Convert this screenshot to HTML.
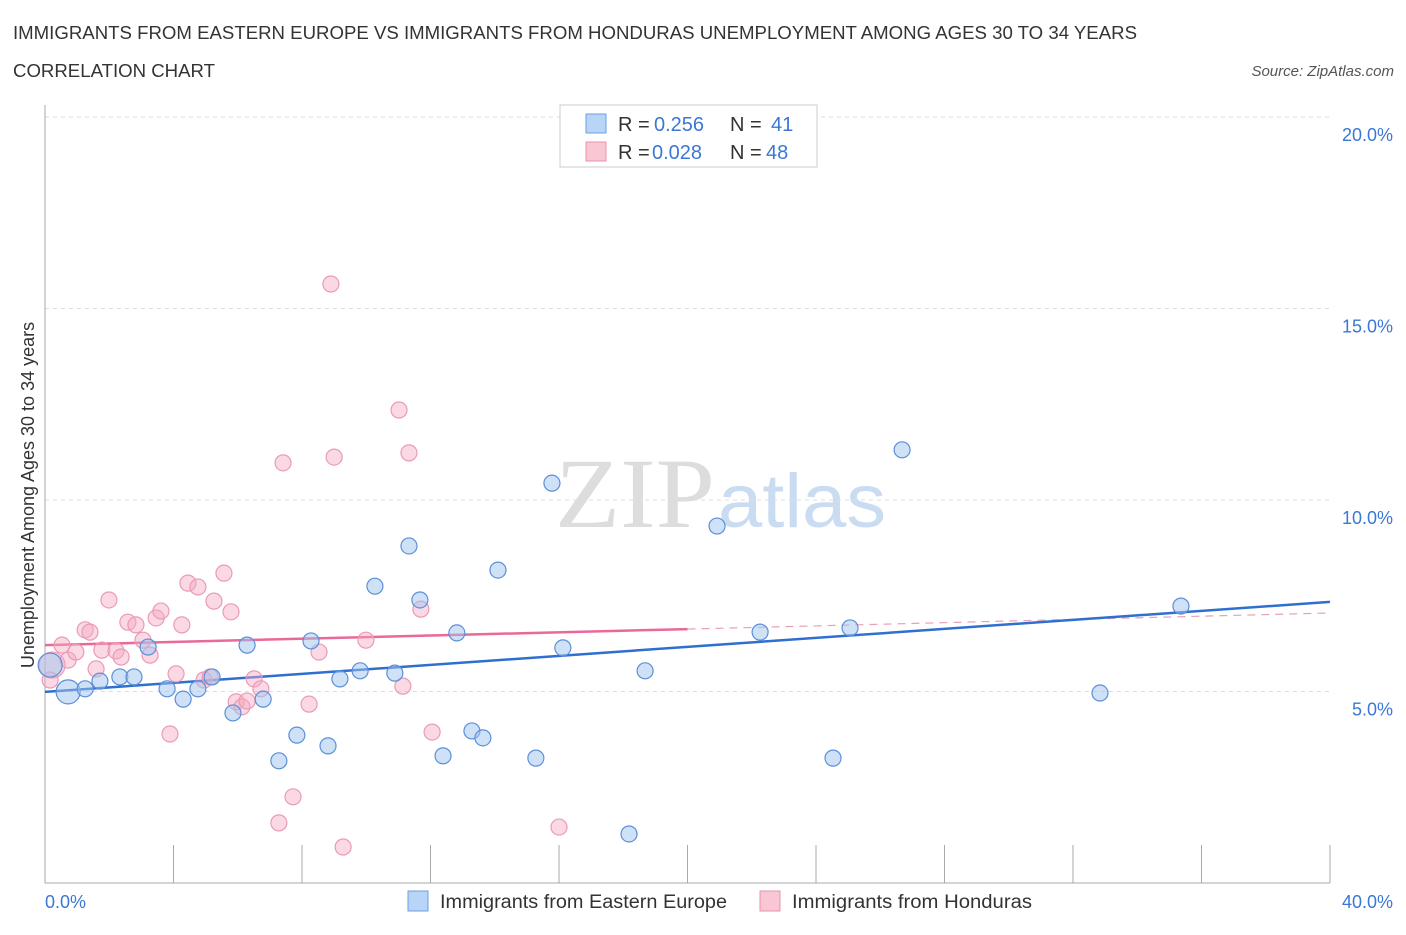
<!DOCTYPE html>
<html><head><meta charset="utf-8"><style>
body{margin:0;background:#fff;font-family:"Liberation Sans",sans-serif;}
</style></head><body>
<svg id="chart" width="1406" height="930" xmlns="http://www.w3.org/2000/svg" font-family="Liberation Sans, sans-serif">
<text x="13" y="39" font-size="18" fill="#333" textLength="1124" lengthAdjust="spacingAndGlyphs">IMMIGRANTS FROM EASTERN EUROPE VS IMMIGRANTS FROM HONDURAS UNEMPLOYMENT AMONG AGES 30 TO 34 YEARS</text>
<text x="13" y="77" font-size="18" fill="#333" textLength="202" lengthAdjust="spacingAndGlyphs">CORRELATION CHART</text>
<text x="1394" y="76" font-size="15" fill="#555" font-style="italic" text-anchor="end">Source: ZipAtlas.com</text>
<text x="555" y="527" font-size="100" font-family="Liberation Serif, serif" fill="#ddd" textLength="160" lengthAdjust="spacingAndGlyphs">ZIP</text>
<text x="718" y="527" font-size="76" fill="#c9dcf2" textLength="168" lengthAdjust="spacingAndGlyphs">atlas</text>
<text transform="translate(34,495) rotate(-90)" font-size="18" fill="#333" text-anchor="middle">Unemployment Among Ages 30 to 34 years</text>
<g id="grid"></g><g id="axes"></g><g id="trend"></g><g id="pts"></g>
<g>
<rect x="560" y="105" width="257" height="62" fill="#fff" stroke="#ccc"/>
<rect x="586" y="114" width="20" height="19" fill="#b8d4f6" stroke="#6c9ee0"/>
<text x="618" y="131" font-size="20" fill="#333">R =</text>
<text x="654" y="131" font-size="20" fill="#3a78d4">0.256</text>
<text x="730" y="131" font-size="20" fill="#333">N =</text>
<text x="771" y="131" font-size="20" fill="#3a78d4">41</text>
<rect x="586" y="142" width="20" height="19" fill="#f9c6d4" stroke="#ea93ae"/>
<text x="618" y="159" font-size="20" fill="#333">R =</text>
<text x="652" y="159" font-size="20" fill="#3a78d4">0.028</text>
<text x="730" y="159" font-size="20" fill="#333">N =</text>
<text x="766" y="159" font-size="20" fill="#3a78d4">48</text>
</g>
<g>
<rect x="408" y="891" width="20" height="20" fill="#b8d4f6" stroke="#6c9ee0"/>
<text x="440" y="908" font-size="19" fill="#333" textLength="287" lengthAdjust="spacingAndGlyphs">Immigrants from Eastern Europe</text>
<rect x="760" y="891" width="20" height="20" fill="#f9c6d4" stroke="#ea93ae"/>
<text x="792" y="908" font-size="19" fill="#333" textLength="240" lengthAdjust="spacingAndGlyphs">Immigrants from Honduras</text>
</g>
</svg>
<script>
const yTicks=[5,10,15,20];
const yTickLabels=["5.0%","10.0%","15.0%","20.0%"];
const xTickLabels=["0.0%","40.0%"];
const blueX=[0.72,1.25,1.71,2.33,2.77,3.21,3.80,4.30,4.76,5.20,5.85,6.29,6.79,7.28,7.84,8.28,8.81,9.18,9.81,10.27,10.89,11.33,11.67,12.39,12.82,13.29,13.63,14.10,15.28,15.78,16.12,18.18,18.68,20.92,22.26,24.53,25.06,26.68,32.84,35.36,0.16];
const blueY=[4.99,5.07,5.27,5.38,5.38,6.16,5.07,4.80,5.07,5.38,4.44,6.21,4.80,3.19,3.86,6.32,3.58,5.33,5.54,7.75,5.48,8.80,7.39,3.32,6.53,3.97,3.79,8.17,3.26,10.44,6.14,1.28,5.54,9.32,6.55,3.26,6.66,11.31,4.96,7.23,5.69];
const blueSize=[14,9,9,9,9,9,9,9,9,9,9,9,9,9,9,9,9,9,9,9,9,9,9,9,9,9,9,9,9,9,9,9,9,9,9,9,9,9,9,9,14];
const pinkX=[0.22,0.53,0.72,0.96,1.25,1.40,1.59,1.77,1.99,2.21,2.37,2.58,2.83,3.05,3.27,3.46,3.61,3.89,4.08,4.26,4.45,4.76,4.95,5.14,5.26,5.57,5.79,5.95,6.13,6.29,6.51,6.72,7.41,7.28,7.72,8.22,8.53,8.90,9.00,9.28,9.99,11.02,11.14,11.33,11.70,12.05,16.00,0.16];
const pinkY=[5.69,6.21,5.82,6.03,6.61,6.55,5.59,6.08,7.39,6.06,5.90,6.81,6.74,6.34,5.95,6.92,7.10,3.89,5.46,6.74,7.83,7.73,5.30,5.38,7.36,8.09,7.08,4.73,4.60,4.75,5.33,5.07,10.97,1.57,2.25,4.67,6.03,15.64,11.12,0.94,6.34,12.35,5.14,11.23,7.15,3.94,1.46,5.30];
const blueTrend=[4.99,7.34];
const pinkTrend=[6.21,7.05];
const pinkSolidEnd=20;
const X=v=>45+v/40*1285, Y=v=>883-v/5*191.5;
const NS="http://www.w3.org/2000/svg";
function mk(p,t,a){const e=document.createElementNS(NS,t);for(const k in a)e.setAttribute(k,a[k]);document.getElementById(p).appendChild(e);return e;}
yTicks.forEach((t,i)=>{
 const g=mk('grid','line',{x1:45,x2:1330,y1:Y(t),y2:Y(t),stroke:'#ddd','stroke-dasharray':'4,4'});
 
 
 const l=mk('axes','text',{x:1393,y:Y(t)+24,'font-size':18,fill:'#3a78d4','text-anchor':'end'});
 l.textContent=yTickLabels[i];
 
 
});
const ax=mk('axes','line',{x1:45,x2:1330,y1:883,y2:883,stroke:'#aaa'});


const ay=mk('axes','line',{x1:45,x2:45,y1:105,y2:883,stroke:'#aaa'});


for(let i=1;i<=10;i++){const t=mk('axes','line',{x1:X(i*4),x2:X(i*4),y1:845,y2:883,stroke:'#aaa'});
 
 }
[[0,45,'start'],[40,1393,'end']].forEach((d,i)=>{const l=mk('axes','text',{x:d[1],y:908,'font-size':18,fill:'#3a78d4','text-anchor':d[2]});
 l.textContent=xTickLabels[i];
 
 });
pinkX.forEach((x,i)=>{const c=mk('pts','circle',{cx:X(x),cy:Y(pinkY[i]),r:i==0?13:8,fill:'rgba(244,170,195,0.45)',stroke:'#ec9ab4','stroke-width':1.2});
 
 });
blueX.forEach((x,i)=>{const c=mk('pts','circle',{cx:X(x),cy:Y(blueY[i]),r:blueSize[i]==14?12:8,fill:'rgba(160,196,240,0.5)',stroke:'#5b8fd8','stroke-width':1.2});
 
 });
const ps=pinkTrend[0]+(pinkTrend[1]-pinkTrend[0])*pinkSolidEnd/40;
const pd=mk('trend','line',{x1:X(pinkSolidEnd),y1:Y(ps),x2:X(40),y2:Y(pinkTrend[1]),stroke:'#e8a0b8','stroke-width':1.2,'stroke-dasharray':'8,6'});


const pl=mk('trend','line',{x1:X(0),y1:Y(pinkTrend[0]),x2:X(pinkSolidEnd),y2:Y(ps),stroke:'#e8699a','stroke-width':2.5});


const bl=mk('trend','line',{x1:X(0),y1:Y(blueTrend[0]),x2:X(40),y2:Y(blueTrend[1]),stroke:'#2f6fd0','stroke-width':2.5});


</script>
</body></html>
